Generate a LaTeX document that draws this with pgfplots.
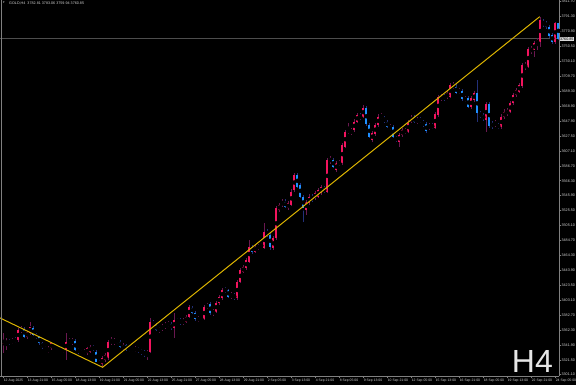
\documentclass[border=0pt]{standalone}
\usepackage{fontspec}
\setmainfont{Liberation Sans}
\newfontfamily\symfont{DejaVu Sans}
\usepackage{pgfplots}
\usepackage{pgfplotstable}
\pgfplotsset{compat=1.18}
\definecolor{bullc}{HTML}{F2145E}
\definecolor{bearc}{HTML}{1E8FFF}
\definecolor{bullw}{HTML}{6A1850}
\definecolor{bearw}{HTML}{23307A}
\definecolor{trendc}{HTML}{DCB400}
\definecolor{axgray}{HTML}{808080}
\definecolor{txtc}{HTML}{D0D0D0}
\definecolor{bidc}{HTML}{4D4D4D}
\definecolor{h4c}{HTML}{E6E6E6}
\definecolor{lblbg}{HTML}{D9D9D9}

\pgfplotstableread{
i o h l c
0 3343.8 3357.5 3330.8 3348.6
1 3343.1 3351.3 3334.9 3347.2
2 3347.2 3350.0 3341.8 3344.5
3 3344.5 3351.3 3343.1 3348.6
4 3348.6 3352.7 3344.5 3346.5
5 3348.6 3365.0 3346.5 3362.3
6 3360.9 3367.8 3358.2 3364.6
7 3364.3 3366.4 3351.3 3353.4
8 3353.1 3360.9 3350.0 3358.9
9 3357.8 3373.7 3355.4 3366.8
10 3364.6 3367.8 3354.1 3355.4
11 3355.4 3358.2 3350.0 3352.7
12 3352.7 3354.1 3341.8 3344.1
13 3344.1 3345.9 3336.3 3339.0
14 3339.0 3340.4 3332.9 3334.9
15 3332.6 3340.4 3330.8 3336.3
16 3337.2 3345.9 3334.9 3344.1
17 3343.1 3345.9 3339.0 3341.8
18 3341.8 3343.1 3336.3 3337.7
19 3337.7 3339.7 3333.6 3334.9
20 3333.6 3337.7 3330.8 3335.6
21 3334.9 3357.8 3321.2 3346.3
22 3345.2 3351.3 3343.1 3347.2
23 3344.1 3351.3 3341.8 3348.6
24 3347.6 3350.0 3333.6 3334.9
25 3335.9 3337.7 3330.1 3332.2
26 3332.2 3334.9 3328.1 3330.4
27 3330.1 3336.3 3328.1 3332.2
28 3330.4 3339.0 3328.1 3337.2
29 3332.6 3341.8 3330.8 3339.4
30 3339.0 3341.8 3333.6 3336.3
31 3332.6 3334.9 3318.5 3318.9
32 3318.9 3321.2 3313.7 3315.8
33 3315.8 3326.7 3311.2 3323.6
34 3321.2 3330.8 3318.5 3328.1
35 3323.6 3348.6 3321.2 3345.9
36 3344.1 3352.7 3341.8 3348.6
37 3344.5 3351.3 3342.4 3347.9
38 3347.9 3350.0 3343.1 3345.9
39 3346.3 3348.6 3337.7 3339.4
40 3335.9 3344.5 3333.6 3341.8
41 3341.8 3343.1 3333.6 3334.9
42 3337.2 3339.0 3332.2 3334.9
43 3337.2 3339.0 3332.2 3333.9
44 3334.2 3340.4 3332.2 3337.0
45 3337.0 3339.0 3330.8 3333.6
46 3334.9 3336.3 3328.1 3330.4
47 3332.6 3334.9 3325.8 3328.1
48 3328.1 3334.9 3321.2 3332.6
49 3332.6 3378.7 3330.8 3373.7
50 3373.7 3376.0 3366.4 3369.1
51 3369.1 3371.9 3360.9 3362.3
52 3361.3 3366.4 3358.2 3364.6
53 3363.2 3370.5 3360.9 3367.8
54 3366.0 3372.6 3363.7 3370.5
55 3367.8 3374.6 3366.4 3371.5
56 3370.5 3373.2 3362.3 3364.6
57 3364.6 3385.1 3351.1 3376.0
58 3375.3 3378.7 3371.9 3373.9
59 3376.0 3378.7 3369.1 3371.5
60 3371.5 3378.7 3369.1 3375.0
61 3373.2 3382.8 3371.9 3380.5
62 3380.5 3396.5 3378.7 3393.4
63 3392.8 3395.1 3384.2 3386.0
64 3386.0 3388.3 3374.6 3376.9
65 3376.0 3381.5 3373.2 3378.3
66 3378.3 3380.1 3374.6 3376.9
67 3376.9 3396.5 3376.0 3394.2
68 3393.4 3399.3 3391.0 3396.5
69 3397.9 3400.6 3382.8 3385.1
70 3385.1 3391.0 3381.5 3388.7
71 3387.3 3402.0 3385.5 3399.7
72 3398.8 3410.2 3396.5 3407.9
73 3405.7 3419.8 3403.4 3417.1
74 3418.0 3421.2 3413.0 3415.7
75 3417.1 3418.4 3406.1 3407.9
76 3407.1 3414.3 3404.7 3411.6
77 3410.2 3413.0 3403.4 3405.7
78 3405.7 3430.7 3403.4 3428.4
79 3428.4 3447.2 3426.6 3444.4
80 3442.1 3451.3 3440.3 3448.1
81 3446.8 3460.9 3444.4 3458.1
82 3455.8 3485.5 3454.0 3476.6
83 3476.6 3478.7 3466.3 3469.5
84 3469.5 3478.7 3467.7 3476.6
85 3474.1 3480.0 3471.8 3477.7
86 3476.6 3481.4 3474.5 3478.7
87 3474.1 3508.3 3473.2 3496.9
88 3496.9 3500.6 3489.6 3492.3
89 3492.3 3495.1 3471.8 3476.6
90 3474.1 3491.0 3471.8 3487.8
91 3487.8 3532.0 3485.5 3528.9
92 3526.6 3536.1 3523.8 3533.4
93 3533.4 3541.6 3530.7 3537.9
94 3537.9 3541.6 3529.3 3531.1
95 3528.9 3538.9 3526.6 3535.7
96 3533.4 3555.3 3532.0 3551.6
97 3553.9 3577.2 3551.2 3574.5
98 3574.5 3577.2 3556.7 3558.5
99 3560.8 3563.5 3543.0 3544.8
100 3544.8 3547.1 3510.5 3528.9
101 3526.6 3540.3 3519.7 3537.9
102 3535.7 3548.5 3533.4 3544.8
103 3544.8 3548.5 3537.5 3540.3
104 3542.6 3552.6 3540.3 3549.4
105 3544.8 3556.7 3543.0 3553.9
106 3549.4 3560.8 3547.1 3558.5
107 3556.2 3559.4 3549.8 3551.6
108 3551.6 3597.7 3549.8 3595.0
109 3592.7 3600.5 3589.5 3597.3
110 3595.0 3597.7 3584.0 3585.8
111 3581.3 3593.6 3578.6 3590.5
112 3589.1 3595.0 3586.8 3591.8
113 3590.5 3618.3 3588.2 3615.5
114 3613.2 3636.1 3611.4 3633.7
115 3632.9 3645.2 3630.6 3636.1
116 3631.5 3638.8 3629.2 3636.1
117 3636.1 3651.1 3633.3 3647.4
118 3647.4 3659.3 3645.6 3656.6
119 3655.6 3659.3 3649.8 3652.1
120 3654.3 3670.3 3652.5 3666.6
121 3665.8 3668.9 3641.5 3643.9
122 3642.9 3645.6 3625.1 3627.0
123 3622.4 3634.7 3619.6 3631.5
124 3630.2 3645.6 3627.9 3642.9
125 3642.9 3658.0 3640.2 3654.3
126 3652.9 3659.3 3651.1 3655.2
127 3652.1 3655.2 3645.6 3648.4
128 3647.4 3649.8 3638.8 3640.6
129 3638.4 3644.3 3636.1 3640.6
130 3640.6 3642.9 3625.1 3627.0
131 3625.5 3627.9 3619.6 3622.4
132 3620.1 3631.9 3613.2 3629.2
133 3629.2 3638.8 3626.5 3636.1
134 3632.9 3638.8 3630.6 3636.1
135 3633.7 3649.8 3632.0 3646.1
136 3647.4 3656.6 3645.6 3652.9
137 3652.9 3656.6 3645.6 3647.4
138 3646.1 3653.9 3644.3 3650.7
139 3650.7 3653.9 3645.6 3647.4
140 3647.4 3649.8 3640.2 3642.9
141 3643.9 3647.0 3632.0 3634.7
142 3638.4 3645.6 3636.1 3642.9
143 3642.9 3645.6 3637.4 3639.2
144 3639.2 3660.7 3637.4 3657.6
145 3656.6 3684.0 3653.9 3681.7
146 3678.1 3685.4 3675.8 3682.6
147 3682.6 3685.4 3675.8 3678.1
148 3680.8 3689.5 3678.5 3686.3
149 3681.7 3700.4 3679.9 3697.7
150 3694.5 3701.1 3692.2 3697.7
151 3695.4 3699.0 3685.4 3687.1
152 3687.1 3693.6 3685.4 3690.8
153 3689.9 3692.2 3675.8 3678.1
154 3676.2 3682.6 3674.4 3679.5
155 3679.5 3682.6 3666.2 3668.0
156 3667.1 3682.6 3664.8 3679.5
157 3677.1 3689.5 3674.4 3686.3
158 3686.3 3704.5 3647.4 3658.9
159 3658.9 3662.1 3652.5 3654.3
160 3656.6 3659.3 3648.4 3650.7
161 3649.8 3674.4 3633.7 3671.3
162 3671.3 3674.4 3638.8 3641.5
163 3645.2 3648.4 3637.4 3640.6
164 3642.9 3649.8 3640.2 3646.1
165 3642.9 3645.6 3637.4 3639.8
166 3639.8 3658.0 3637.4 3654.3
167 3653.5 3664.8 3651.1 3661.1
168 3658.0 3666.2 3655.2 3663.5
169 3661.1 3675.8 3659.3 3672.6
170 3672.6 3686.7 3670.3 3684.0
171 3684.0 3693.6 3681.2 3690.8
172 3688.5 3700.4 3686.7 3697.7
173 3696.3 3727.8 3693.6 3725.1
174 3721.9 3729.2 3718.2 3725.1
175 3722.7 3749.7 3720.9 3746.5
176 3743.3 3751.0 3740.1 3747.9
177 3745.6 3757.9 3736.0 3754.8
178 3753.8 3762.0 3745.6 3759.3
179 3756.5 3791.2 3749.7 3786.7
180 3784.3 3788.0 3777.1 3779.8
181 3783.0 3785.3 3774.3 3777.5
182 3777.5 3779.8 3762.0 3764.8
183 3766.1 3768.9 3753.8 3757.0
184 3757.0 3784.0 3753.8 3782.5
185 3782.8 3783.1 3759.9 3760.9
}\candles

\begin{document}
\begin{tikzpicture}
\path[use as bounding box] (0pt,0pt) rectangle (576pt,385pt);
\fill[black] (0pt,0pt) rectangle (576pt,385pt);
\begin{axis}[
  at={(0pt,8.5pt)}, anchor=south west,
  width=559pt, height=376.5pt, scale only axis,
  xmin=-1.1, xmax=185.23, ymin=3298.64, ymax=3814.03,
  clip mode=individual,
  axis x line=bottom, axis y line=right,
  axis line style={-, draw=axgray, line width=0.6pt},
  tick align=outside, major tick length=2pt,
  tick style={draw=axgray, line width=0.5pt},
  /pgf/number format/assume math mode=true,
  xtick={0,8,...,184},
  xticklabels={12 Aug 2025,13 Aug 21:00,15 Aug 05:00,18 Aug 13:00,19 Aug 21:00,21 Aug 05:00,22 Aug 13:00,25 Aug 21:00,27 Aug 05:00,28 Aug 13:00,29 Aug 21:00,2 Sep 05:00,3 Sep 13:00,4 Sep 21:00,8 Sep 05:00,9 Sep 13:00,10 Sep 21:00,12 Sep 05:00,15 Sep 13:00,16 Sep 21:00,18 Sep 05:00,19 Sep 13:00,22 Sep 21:00,24 Sep 05:00},
  xticklabel style={anchor=north west, inner sep=0pt, xshift=0.3pt, yshift=-0.8pt, text=txtc, font=\fontsize{3.4}{4}\selectfont},
  ytick={3301.100,3321.524,3341.948,3362.372,3382.796,3403.220,3423.644,3444.068,3464.492,3484.916,3505.340,3525.764,3546.188,3566.612,3587.036,3607.460,3627.884,3648.308,3668.732,3689.156,3709.580,3730.004,3750.428,3770.852,3791.276,3811.700},
  yticklabels={3301.10,3321.50,3341.90,3362.30,3382.70,3403.10,3423.50,3443.90,3464.30,3484.70,3505.10,3525.50,3545.90,3566.30,3586.70,3607.10,3627.50,3647.90,3668.90,3689.30,3709.70,3730.10,3750.50,3770.90,3791.30,3811.70},
  yticklabel style={anchor=west, inner sep=0pt, xshift=0.4pt, text=txtc, font=\fontsize{3.7}{4}\selectfont},
]
% bid line
\addplot[bidc, line width=1pt] coordinates {(-1.1,3760.85) (185.23,3760.85)};
% wicks
\addplot[only marks, mark=none, restrict expr to domain={\thisrow{c}-\thisrow{o}}{0:10000},
  error bars/.cd, y dir=both, y explicit, error mark=none,
  error bar style={draw=bullw, line width=0.9pt}]
  table[x=i, y expr={(\thisrow{h}+\thisrow{l})/2}, y error expr={(\thisrow{h}-\thisrow{l})/2}] {\candles};
\addplot[only marks, mark=none, restrict expr to domain={\thisrow{c}-\thisrow{o}}{-10000:-0.001},
  error bars/.cd, y dir=both, y explicit, error mark=none,
  error bar style={draw=bearw, line width=0.9pt}]
  table[x=i, y expr={(\thisrow{h}+\thisrow{l})/2}, y error expr={(\thisrow{h}-\thisrow{l})/2}] {\candles};
% bodies
\addplot[only marks, mark=none, restrict expr to domain={\thisrow{c}-\thisrow{o}}{0:10000},
  error bars/.cd, y dir=both, y explicit, error mark=none,
  error bar style={draw=bullc, line width=2.2pt}]
  table[x=i, y expr={(\thisrow{o}+\thisrow{c})/2}, y error expr={max(abs(\thisrow{c}-\thisrow{o})/2,0.5)}] {\candles};
\addplot[only marks, mark=none, restrict expr to domain={\thisrow{c}-\thisrow{o}}{-10000:-0.001},
  error bars/.cd, y dir=both, y explicit, error mark=none,
  error bar style={draw=bearc, line width=2.2pt}]
  table[x=i, y expr={(\thisrow{o}+\thisrow{c})/2}, y error expr={max(abs(\thisrow{c}-\thisrow{o})/2,0.5)}] {\candles};
% trend line
\addplot[trendc, line width=1pt] coordinates {(-1.1,3378.8) (33.1,3311.2) (178.8,3791.2)};
\end{axis}
% left border
\draw[axgray, line width=0.6pt] (1.3pt,8.5pt) -- (1.3pt,385pt);
% header
\node[anchor=west, inner sep=0pt, text=txtc, font=\symfont\fontsize{3}{3}\selectfont] at (3pt,382pt) {▾};
\node[anchor=west, inner sep=0pt, text=txtc, font=\fontsize{3.7}{4}\selectfont] at (9pt,382pt) {GOLD,H4\ \ 3782.81 3783.06 3759.94 3760.85};
% bid price label
\node[anchor=west, fill=lblbg, text=black, inner xsep=0.6pt, inner ysep=0.7pt, font=\fontsize{3.7}{4}\selectfont] at (559.3pt,346.15pt) {3760.85};
% timeframe watermark
\node[anchor=base east, inner sep=0pt, text=h4c, font=\fontsize{32}{32}\selectfont] at (553pt,12pt) {H4};
\end{tikzpicture}
\end{document}
